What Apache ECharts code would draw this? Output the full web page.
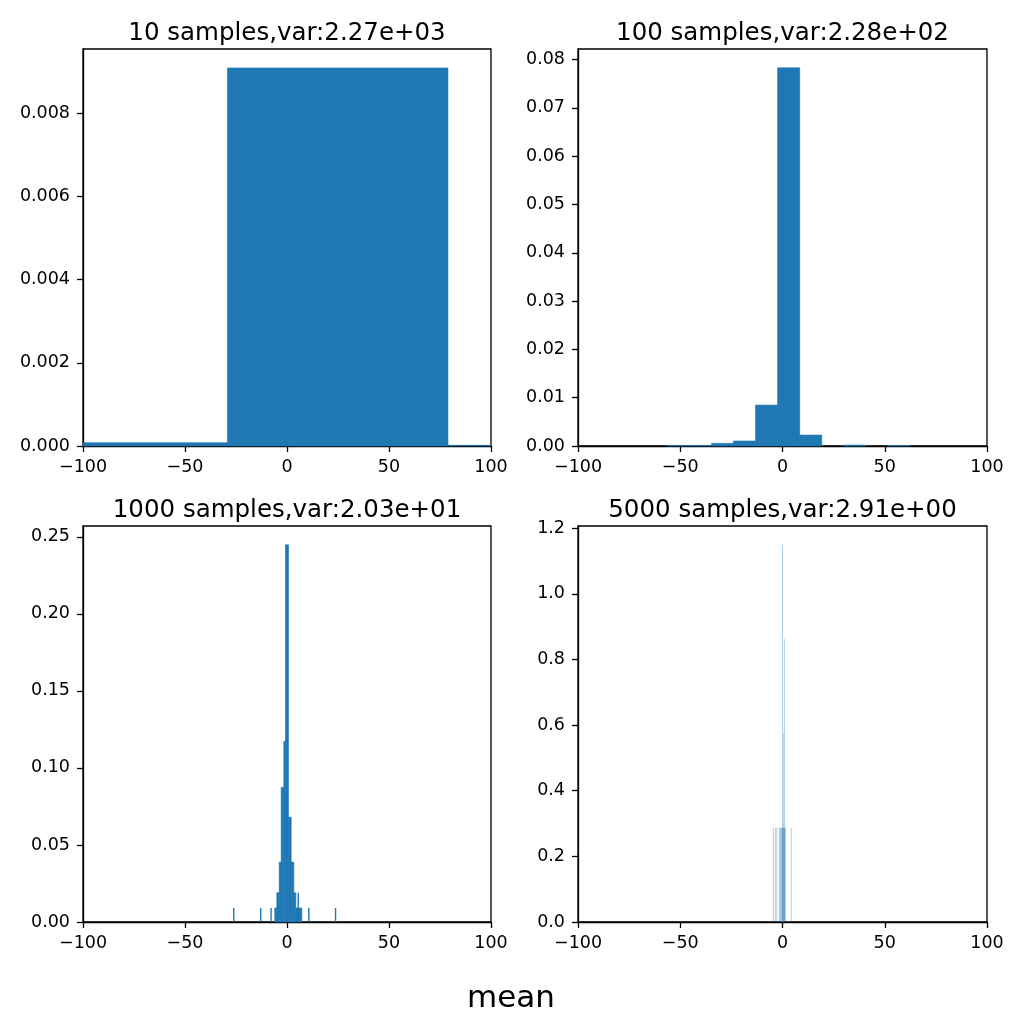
<!DOCTYPE html>
<html>
<head>
<meta charset="utf-8">
<title>sample means</title>
<script src="https://cdn.jsdelivr.net/npm/echarts@6/dist/echarts.min.js"></script>
<style>
  html, body { margin: 0; padding: 0; background: #fff; }
  #chart { width: 1024px; height: 1024px; }
</style>
</head>
<body>
<div id="chart"></div>
<script>
// panel titles
var titles = [
  '10 samples,var:2.27e+03',
  '100 samples,var:2.28e+02',
  '1000 samples,var:2.03e+01',
  '5000 samples,var:2.91e+00'
];

// histogram bins: [left edge, right edge, density]
var bins10 = [
  [-140, -29.2, 0.00008],
  [-29.2, 78.9, 0.00909],
  [78.9, 140, 0.000015]
];
var bins100 = [
  [-56.3, -45.5, 0.0001],
  [-45.5, -34.7, 0.0001],
  [-34.7, -24.0, 0.00055],
  [-24.0, -13.2, 0.00103],
  [-13.2, -2.4, 0.00847],
  [-2.4, 8.4, 0.0783],
  [8.4, 19.2, 0.00227],
  [29.9, 40.7, 0.0002],
  [51.5, 62.3, 0.0001]
];
var bins1000 = [
  [-6.0, -5.0, 0.0091],
  [-5.0, -3.83, 0.019],
  [-3.83, -2.85, 0.0389],
  [-2.85, -1.57, 0.0874],
  [-1.57, -0.74, 0.1172],
  [-0.74, 0.74, 0.2448],
  [0.74, 2.06, 0.068],
  [2.06, 3.34, 0.0389],
  [3.34, 4.32, 0.019],
  [4.32, 7.27, 0.0091]
];
// single narrow bins drawn as thin lines: [x, density]
var spikes1000 = [
  [-26.1, 0.0091], [-12.9, 0.0091], [-7.8, 0.0091],
  [5.5, 0.019], [10.7, 0.0091], [23.8, 0.0091]
];
var spikes5000 = [
  [-4.5, 0.287], [-3.5, 0.287], [-2.8, 0.287], [-1.5, 0.287],
  [-1.1, 0.287], [-0.7, 0.287], [-0.4, 0.287], [-0.1, 0.287],
  [0.2, 0.287], [0.5, 0.287], [0.8, 0.287], [1.1, 0.287],
  [1.4, 0.287], [4.3, 0.287],
  [0.0, 1.149], [0.6, 0.574], [0.9, 0.862]
];

// tick labels
var xTicks = [-100, -50, 0, 50, 100];
var yTicks = [
  [0, 0.002, 0.004, 0.006, 0.008],
  [0, 0.01, 0.02, 0.03, 0.04, 0.05, 0.06, 0.07, 0.08],
  [0, 0.05, 0.10, 0.15, 0.20, 0.25],
  [0, 0.2, 0.4, 0.6, 0.8, 1.0, 1.2]
];
var yMax = [0.009545, 0.0822, 0.2570, 1.2065];
var yDigits = [3, 2, 2, 1];

var blue = '#1f77b4';
var font = 'DejaVu Sans';

var chart = echarts.init(document.getElementById('chart'));

var grids = [
  { left: 83, top: 49, width: 408, height: 397 },
  { left: 578, top: 49, width: 409, height: 397 },
  { left: 83, top: 526, width: 408, height: 396 },
  { left: 578, top: 526, width: 409, height: 396 }
];

// draws a rect per bin from axis coords, clipped to the grid
function binRenderer(minW, opacity) {
  return function (params, api) {
    var x0 = api.value(0), x1 = api.value(1), h = api.value(2);
    var p0 = api.coord([x0, h]);
    var p1 = api.coord([x1, 0]);
    var w = p1[0] - p0[0];
    var x = p0[0];
    if (w < minW) {
      x = (p0[0] + p1[0]) / 2 - minW / 2;
      w = minW;
    }
    var rect = echarts.graphic.clipRectByRect(
      { x: x, y: p0[1], width: w, height: p1[1] - p0[1] },
      {
        x: params.coordSys.x,
        y: params.coordSys.y,
        width: params.coordSys.width,
        height: params.coordSys.height
      }
    );
    if (!rect) return;
    var style = { fill: blue, opacity: opacity };
    if (opacity === 1 && minW === 0) {
      // hide antialias seams between neighbouring bins
      style.stroke = blue;
      style.lineWidth = 0.6;
    }
    return { type: 'rect', shape: rect, style: style };
  };
}

var xAxes = [], yAxes = [], series = [], titleList = [];

grids.forEach(function (g, i) {
  g.show = true;
  g.borderColor = '#000';
  g.borderWidth = 1.3;
  g.backgroundColor = '#fff';
  xAxes.push({
    type: 'value', gridIndex: i, min: -100, max: 100, interval: 50,
    axisLine: { show: true, onZero: false, lineStyle: { color: '#000', width: 1.3 } },
    axisTick: { show: true, length: 6, lineStyle: { color: '#000', width: 1.3 }, customValues: xTicks },
    axisLabel: {
      color: '#000', fontSize: 17.5, fontFamily: font, margin: 12,
      customValues: xTicks,
      formatter: function (v) { return String(v).replace('-', '\u2212'); }
    },
    splitLine: { show: false }
  });
  yAxes.push({
    type: 'value', gridIndex: i, min: 0, max: yMax[i],
    axisLine: { show: true, onZero: false, lineStyle: { color: '#000', width: 1.3 } },
    axisTick: { show: true, length: 6, lineStyle: { color: '#000', width: 1.3 }, customValues: yTicks[i] },
    axisLabel: {
      color: '#000', fontSize: 17.5, fontFamily: font, margin: 13,
      customValues: yTicks[i],
      formatter: (function (d) { return function (v) { return v.toFixed(d); }; })(yDigits[i])
    },
    splitLine: { show: false }
  });
  titleList.push({
    text: titles[i],
    left: g.left + g.width / 2,
    top: g.top - 28,
    padding: 0,
    textAlign: 'center',
    textStyle: { color: '#000', fontSize: 24.5, fontWeight: 'normal', fontFamily: font }
  });
});

titleList.push({
  text: 'mean',
  left: 511,
  top: 983,
  padding: 0,
  textAlign: 'center',
  textStyle: { color: '#000', fontSize: 31, fontWeight: 'normal', fontFamily: font }
});

function spikeData(list) {
  return list.map(function (s) { return [s[0], s[0], s[1]]; });
}

series.push(
  { type: 'custom', xAxisIndex: 0, yAxisIndex: 0, renderItem: binRenderer(0, 1),
    encode: { x: [0, 1], y: 2 }, data: bins10, silent: true },
  { type: 'custom', xAxisIndex: 1, yAxisIndex: 1, renderItem: binRenderer(0, 1),
    encode: { x: [0, 1], y: 2 }, data: bins100, silent: true },
  { type: 'custom', xAxisIndex: 2, yAxisIndex: 2, renderItem: binRenderer(0, 1),
    encode: { x: [0, 1], y: 2 }, data: bins1000, silent: true },
  { type: 'custom', xAxisIndex: 2, yAxisIndex: 2, renderItem: binRenderer(1.4, 1),
    encode: { x: [0, 1], y: 2 }, data: spikeData(spikes1000), silent: true },
  { type: 'custom', xAxisIndex: 3, yAxisIndex: 3, renderItem: binRenderer(1, 0.35),
    encode: { x: [0, 1], y: 2 }, data: spikeData(spikes5000), silent: true }
);

chart.setOption({
  animation: false,
  backgroundColor: '#fff',
  title: titleList,
  grid: grids,
  xAxis: xAxes,
  yAxis: yAxes,
  series: series
});
</script>
</body>
</html>
